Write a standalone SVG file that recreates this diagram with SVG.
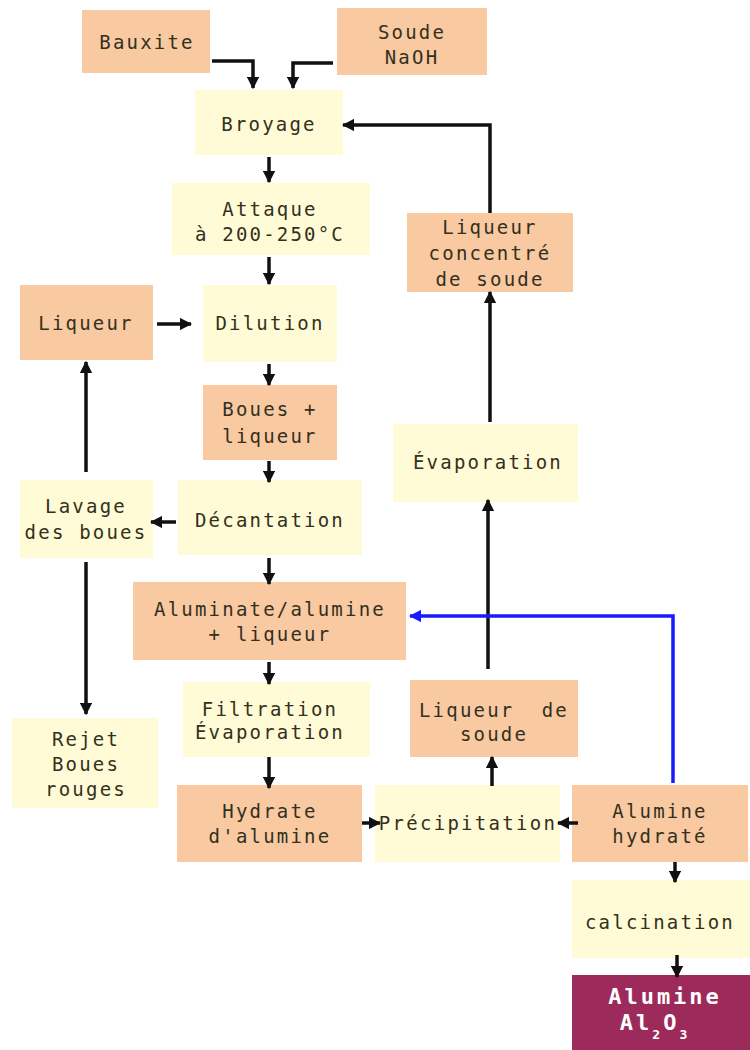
<svg xmlns="http://www.w3.org/2000/svg" width="750" height="1050" viewBox="0 0 750 1050">
<defs>
<style>
.o{fill:#F9C9A2}
.y{fill:#FFFBD6}
.m{fill:#9C2B5C}
text{font-family:"DejaVu Sans Mono","Liberation Mono",monospace;font-size:19px;fill:#333020;text-anchor:middle;letter-spacing:2.2px}
.w{fill:#fff;font-weight:bold;font-size:22px;letter-spacing:3px}
.c{fill:none;stroke:#111;stroke-width:3.5}
.b{fill:none;stroke:#1a1aff;stroke-width:3.5}
</style>
<marker id="a" viewBox="0 0 10 10" refX="9" refY="5" markerWidth="3.5" markerHeight="3.5" orient="auto" markerUnits="strokeWidth"><path d="M0,0 L10,5 L0,10 z" fill="#111"/></marker>
<marker id="ab" viewBox="0 0 10 10" refX="9" refY="5" markerWidth="3.5" markerHeight="3.5" orient="auto" markerUnits="strokeWidth"><path d="M0,0 L10,5 L0,10 z" fill="#1a1aff"/></marker>
</defs>
<rect width="750" height="1050" fill="#fff"/>
<g id="bauxite"><rect class="o" x="82" y="10" width="128" height="63"/><text x="147" y="49">Bauxite</text></g>
<g id="soude"><rect class="o" x="337" y="8" width="150" height="67"/><text x="412" y="39">Soude</text><text x="412" y="64">NaOH</text></g>
<g id="broyage"><rect class="y" x="195" y="90" width="148" height="65"/><text x="269" y="131">Broyage</text></g>
<g id="attaque"><rect class="y" x="172" y="183" width="198" height="72"/><text x="270" y="216">Attaque</text><text x="270" y="241">à 200-250°C</text></g>
<g id="liqueur"><rect class="o" x="20" y="285" width="133" height="75"/><text x="86" y="330">Liqueur</text></g>
<g id="dilution"><rect class="y" x="203" y="285" width="134" height="77"/><text x="270" y="330">Dilution</text></g>
<g id="boues"><rect class="o" x="203" y="385" width="134" height="75"/><text x="270" y="416">Boues +</text><text x="270" y="443">liqueur</text></g>
<g id="lavage"><rect class="y" x="20" y="480" width="133" height="78"/><text x="86" y="513">Lavage</text><text x="86" y="539">des boues</text></g>
<g id="decantation"><rect class="y" x="178" y="480" width="184" height="75"/><text x="270" y="527">Décantation</text></g>
<g id="aluminate"><rect class="o" x="133" y="582" width="273" height="78"/><text x="270" y="616">Aluminate/alumine</text><text x="270" y="641">+ liqueur</text></g>
<g id="filtration"><rect class="y" x="183" y="682" width="187" height="75"/><text x="270" y="716">Filtration</text><text x="270" y="739">Évaporation</text></g>
<g id="rejet"><rect class="y" x="12" y="718" width="146" height="90"/><text x="86" y="746">Rejet</text><text x="86" y="771">Boues</text><text x="86" y="796">rouges</text></g>
<g id="hydrate"><rect class="o" x="177" y="785" width="185" height="77"/><text x="270" y="818">Hydrate</text><text x="270" y="843">d'alumine</text></g>
<g id="precipitation"><rect class="y" x="375" y="785" width="185" height="77"/><text x="468" y="830" style="letter-spacing:2.3px">Précipitation</text></g>
<g id="alumine-hydrate"><rect class="o" x="572" y="785" width="176" height="77"/><text x="660" y="818">Alumine</text><text x="660" y="843">hydraté</text></g>
<g id="calcination"><rect class="y" x="572" y="880" width="178" height="78"/><text x="660" y="929">calcination</text></g>
<g id="alumine"><rect class="m" x="572" y="975" width="178" height="75"/><text class="w" x="665" y="1004">Alumine</text><text class="w" x="655" y="1030">Al<tspan dy="9" font-size="13">2</tspan><tspan dy="-9">O</tspan><tspan dy="9" font-size="13">3</tspan></text></g>
<g id="liqueur-soude"><rect class="o" x="410" y="680" width="168" height="77"/><text x="494" y="717" xml:space="preserve">Liqueur  de</text><text x="494" y="741">soude</text></g>
<g id="evaporation"><rect class="y" x="393" y="424" width="185" height="78"/><text x="488" y="469">Évaporation</text></g>
<g id="liqueur-concentre"><rect class="o" x="407" y="213" width="166" height="79"/><text x="490" y="234">Liqueur</text><text x="490" y="260">concentré</text><text x="490" y="286">de soude</text></g>
<g id="connectors">
<path class="c" d="M212,61 H253 V88" marker-end="url(#a)"/>
<path class="c" d="M333,63 H293 V88" marker-end="url(#a)"/>
<path class="c" d="M269,157 V182" marker-end="url(#a)"/>
<path class="c" d="M269,257 V284" marker-end="url(#a)"/>
<path class="c" d="M157,324 H191" marker-end="url(#a)"/>
<path class="c" d="M269,364 V385" marker-end="url(#a)"/>
<path class="c" d="M269,461 V482" marker-end="url(#a)"/>
<path class="c" d="M176,522 H151" marker-end="url(#a)"/>
<path class="c" d="M269,558 V584" marker-end="url(#a)"/>
<path class="c" d="M86,472 V362" marker-end="url(#a)"/>
<path class="c" d="M86,562 V714" marker-end="url(#a)"/>
<path class="c" d="M269,662 V684" marker-end="url(#a)"/>
<path class="c" d="M269,757 V788" marker-end="url(#a)"/>
<path class="c" d="M362,823 H380" marker-end="url(#a)"/>
<path class="c" d="M578,823 H558" marker-end="url(#a)"/>
<path class="c" d="M492,786 V757" marker-end="url(#a)"/>
<path class="c" d="M488,669 V500" marker-end="url(#a)"/>
<path class="c" d="M490,422 V292" marker-end="url(#a)"/>
<path class="c" d="M490,213 V125 H343" marker-end="url(#a)"/>
<path class="b" d="M673,783 V616 H410" marker-end="url(#ab)"/>
<path class="c" d="M675,862 V882" marker-end="url(#a)"/>
<path class="c" d="M677,955 V977" marker-end="url(#a)"/>
</g>
</svg>
